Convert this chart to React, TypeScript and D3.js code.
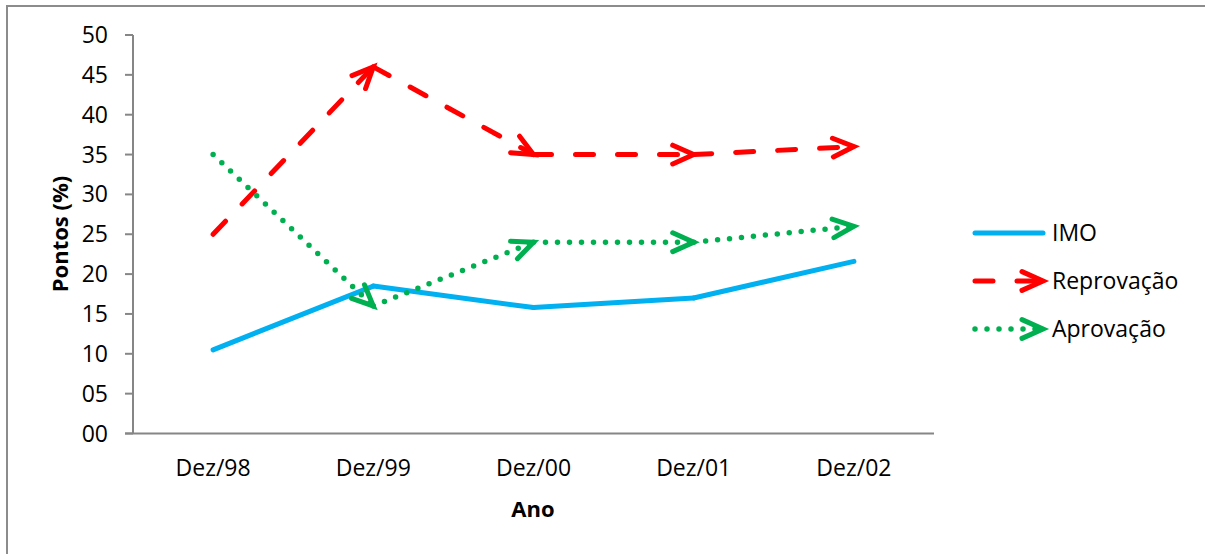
import React from "react";
import * as d3 from "d3";

const categories = ["Dez/98", "Dez/99", "Dez/00", "Dez/01", "Dez/02"];
const imo = [10.5, 18.5, 15.8, 17.0, 21.6];
const reprovacao = [25, 46, 35, 35, 36];
const aprovacao = [35, 16, 24, 24, 26];
const yTicks = [0, 5, 10, 15, 20, 25, 30, 35, 40, 45, 50];

const W = 1205;
const H = 554;
const FONT = "'Open Sans', 'DejaVu Sans', sans-serif";

type Series = { name: string; values: number[]; color: string; dash: string | null; arrows: boolean; width: number };

const series: Series[] = [
  { name: "IMO", values: imo, color: "#00B0F0", dash: null, arrows: false, width: 5 },
  { name: "Reprovação", values: reprovacao, color: "#FF0000", dash: "18 24", arrows: true, width: 5 },
  { name: "Aprovação", values: aprovacao, color: "#00B050", dash: "0 12", arrows: true, width: 5.5 },
];

function arrowPath(x: number, y: number, angle: number, len = 23, spread = 0.42) {
  const a1 = angle + Math.PI - spread;
  const a2 = angle + Math.PI + spread;
  const p1 = [x + len * Math.cos(a1), y + len * Math.sin(a1)];
  const p2 = [x + len * Math.cos(a2), y + len * Math.sin(a2)];
  return `M${p1[0]},${p1[1]}L${x},${y}L${p2[0]},${p2[1]}`;
}

export default function App() {
  const x = d3.scaleBand<string>().domain(categories).range([133, 934]);
  const y = d3.scaleLinear().domain([0, 50]).range([433.5, 35]);
  const cx = (c: string) => (x(c) as number) + x.bandwidth() / 2;

  return (
    <svg width={W} height={H} style={{ position: "absolute", left: 0, top: 0, background: "#fff" }}>
      <rect x={7} y={6} width={W + 20} height={H + 20} fill="#fff" stroke="#8c8c8c" strokeWidth={2} />

      {/* Y axis */}
      <line x1={133} x2={133} y1={y(50)} y2={y(0)} stroke="#868686" strokeWidth={2} />
      {yTicks.map((t) => (
        <g key={t}>
          <line x1={125} x2={133} y1={y(t)} y2={y(t)} stroke="#868686" strokeWidth={2} />
          <text x={108} y={y(t)} dy="0.35em" textAnchor="end" fontFamily={FONT} fontSize={23} fill="#000">
            {d3.format("02d")(t)}
          </text>
        </g>
      ))}
      {/* X axis */}
      <line x1={125} x2={934} y1={y(0)} y2={y(0)} stroke="#868686" strokeWidth={2} />
      {categories.map((c) => (
        <text key={c} x={cx(c)} y={476} textAnchor="middle" fontFamily={FONT} fontSize={23} fill="#000">
          {c}
        </text>
      ))}

      <text x={533} y={517} textAnchor="middle" fontFamily={FONT} fontSize={22} fontWeight="bold" fill="#000">
        Ano
      </text>
      <text
        transform={`translate(68,234) rotate(-90)`}
        textAnchor="middle"
        fontFamily={FONT}
        fontSize={22}
        fontWeight="bold"
        fill="#000"
      >
        Pontos (%)
      </text>

      {/* Series */}
      {series.map((s) => (
        <g key={s.name}>
          {s.values.slice(1).map((v, i) => {
            const x0 = cx(categories[i]);
            const y0 = y(s.values[i]);
            const x1 = cx(categories[i + 1]);
            const y1 = y(v);
            const ang = Math.atan2(y1 - y0, x1 - x0);
            return (
              <g key={i}>
                <line
                  x1={x0}
                  y1={y0}
                  x2={x1}
                  y2={y1}
                  stroke={s.color}
                  strokeWidth={s.width}
                  strokeLinecap="round"
                  strokeDasharray={s.dash ?? undefined}
                />
                {s.arrows && (
                  <path
                    d={arrowPath(x1, y1, ang)}
                    fill="none"
                    stroke={s.color}
                    strokeWidth={5}
                    strokeLinecap="round"
                    strokeLinejoin="miter"
                  />
                )}
              </g>
            );
          })}
        </g>
      ))}

      {/* Legend */}
      {series.map((s, i) => {
        const ly = 233 + i * 48;
        return (
          <g key={s.name}>
            <line
              x1={975}
              x2={1043}
              y1={ly}
              y2={ly}
              stroke={s.color}
              strokeWidth={s.width}
              strokeLinecap="round"
              strokeDasharray={s.dash ?? undefined}
            />
            {s.arrows && (
              <path d={arrowPath(1043, ly, 0)} fill="none" stroke={s.color} strokeWidth={5} strokeLinecap="round" />
            )}
            <text x={1052} y={ly} dy="0.35em" fontFamily={FONT} fontSize={23} fill="#000">
              {s.name}
            </text>
          </g>
        );
      })}
    </svg>
  );
}
